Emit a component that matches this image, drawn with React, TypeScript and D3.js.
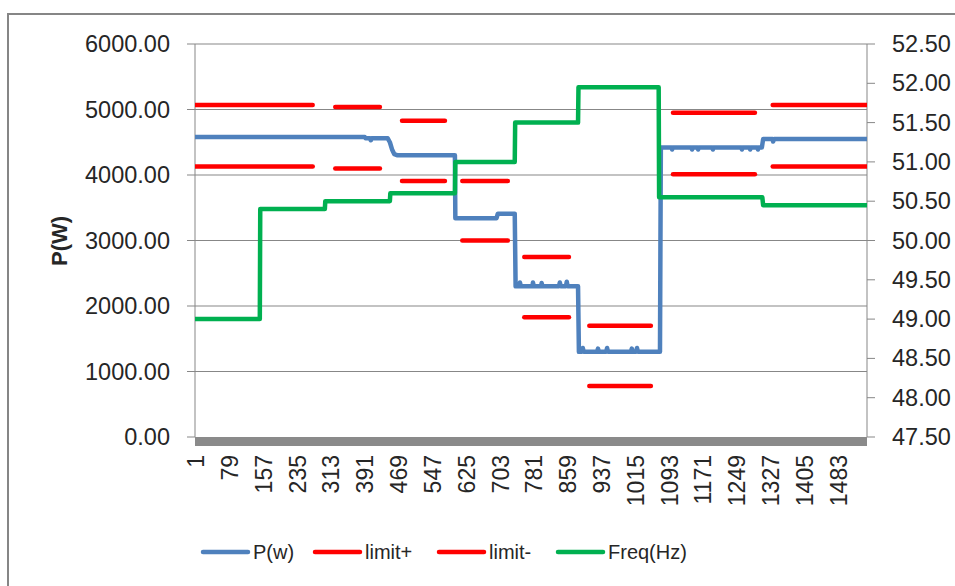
import React from 'react';
import * as d3 from 'd3';

const N = 1550;
const xTickLabels = [1, 79, 157, 235, 313, 391, 469, 547, 625, 703, 781, 859, 937, 1015, 1093, 1171, 1249, 1327, 1405, 1483];
const leftTicks = [0, 1000, 2000, 3000, 4000, 5000, 6000];
const rightTicks = [47.5, 48, 48.5, 49, 49.5, 50, 50.5, 51, 51.5, 52, 52.5];

// P(w) breakpoints (sample index, watts)
const pIndex = [1, 392, 394, 404, 406, 408, 445, 450, 455, 460, 468, 600, 601, 696, 699, 738, 740,
  749, 750, 752, 779, 780, 782, 799, 800, 802, 840, 842, 844, 856, 858, 860, 884, 886,
  893, 895, 897, 928, 930, 932, 949, 951, 953, 1006, 1008, 1010, 1018, 1020, 1022, 1073, 1075,
  1100, 1101, 1102, 1146, 1147, 1148, 1160, 1161, 1162, 1194, 1195, 1196, 1261, 1262, 1263,
  1280, 1281, 1282, 1298, 1299, 1300, 1308, 1311, 1333, 1334, 1336, 1550];
const pValue = [4580, 4580, 4560, 4560, 4530, 4560, 4560, 4500, 4390, 4320, 4300, 4300, 3340, 3340, 3410, 3410, 2300,
  2300, 2360, 2300, 2300, 2360, 2300, 2300, 2350, 2300, 2300, 2360, 2300, 2300, 2370, 2300, 2300, 1300,
  1300, 1360, 1300, 1300, 1350, 1300, 1300, 1360, 1300, 1300, 1350, 1300, 1300, 1360, 1300, 1300, 4420,
  4420, 4390, 4420, 4420, 4390, 4420, 4420, 4390, 4420, 4420, 4390, 4420, 4420, 4390, 4420,
  4420, 4390, 4420, 4420, 4390, 4420, 4420, 4550, 4550, 4510, 4550, 4550];

// Frequency breakpoints (sample index, Hz)
const fIndex = [1, 150, 151, 300, 301, 450, 451, 600, 601, 738, 739, 884, 885, 1070, 1071, 1309, 1311, 1550];
const fValue = [49.0, 49.0, 50.4, 50.4, 50.5, 50.5, 50.6, 50.6, 51.0, 51.0, 51.5, 51.5, 51.95, 51.95, 50.55, 50.55, 50.45, 50.45];

// limit segments
const limitStart = [1, 324, 478, 617, 760, 910, 1103, 1333];
const limitEnd = [272, 427, 577, 722, 863, 1052, 1292, 1550];
const limitPlus = [5070, 5040, 4830, 3910, 2750, 1700, 4950, 5070];
const limitMinus = [4130, 4100, 3910, 3000, 1830, 780, 4010, 4130];

const legendLabels = ['P(w)', 'limit+', 'limit-', 'Freq(Hz)'];
const legendColors = ['#4F81BD', '#FF0000', '#FF0000', '#00B050'];

const FONT = '"Liberation Sans", Arial, sans-serif';
const TXT = '#262626';
const GRID = '#878787';

export default function App() {
  const left = 195, right = 867, top = 44, bottom = 437;
  const x = d3.scaleLinear().domain([0.5, N + 0.5]).range([left, right]);
  const yL = d3.scaleLinear().domain([0, 6000]).range([bottom, top]);
  const yR = d3.scaleLinear().domain([47.5, 52.5]).range([bottom, top]);

  const pPts: [number, number][] = pIndex.map((d, i) => [d, pValue[i]]);
  const fPts: [number, number][] = fIndex.map((d, i) => [d, fValue[i]]);
  const lineL = d3.line<[number, number]>().x(d => x(d[0])).y(d => yL(d[1]));
  const lineR = d3.line<[number, number]>().x(d => x(d[0])).y(d => yR(d[1]));

  const legendX = [203, 315, 439, 558];

  return (
    <svg width={955} height={586} style={{ position: 'absolute', left: 0, top: 0, background: '#fff' }}>
      <defs>
        <clipPath id="plot">
          <rect x={left} y={top - 5} width={right - left} height={bottom - top + 5} />
        </clipPath>
      </defs>
      <rect x={0} y={0} width={955} height={586} fill="#fff" />
      <rect x={8} y={14} width={980} height={640} fill="none" stroke="#868686" strokeWidth={2} />

      {/* gridlines */}
      {leftTicks.filter(t => t > 0).map(t => (
        <line key={'g' + t} x1={left} x2={right} y1={yL(t)} y2={yL(t)} stroke={GRID} strokeWidth={1} />
      ))}
      {/* axes */}
      <line x1={left} x2={left} y1={top} y2={bottom} stroke={GRID} strokeWidth={1} />
      <line x1={right} x2={right} y1={top} y2={bottom} stroke={GRID} strokeWidth={1} />
      {leftTicks.map(t => (
        <g key={'l' + t}>
          <line x1={left - 8} x2={left} y1={yL(t)} y2={yL(t)} stroke={GRID} strokeWidth={1} />
          <text x={170} y={yL(t)} dominantBaseline="central" textAnchor="end" fontFamily={FONT} fontSize={23.5} fill={TXT}>
            {t.toFixed(2)}
          </text>
        </g>
      ))}
      {rightTicks.map(t => (
        <g key={'r' + t}>
          <line x1={right} x2={right + 8} y1={yR(t)} y2={yR(t)} stroke={GRID} strokeWidth={1} />
          <text x={892} y={yR(t)} dominantBaseline="central" textAnchor="start" fontFamily={FONT} fontSize={23.5} fill={TXT}>
            {t.toFixed(2)}
          </text>
        </g>
      ))}
      {/* thick category axis */}
      <rect x={left} y={bottom} width={right - left} height={9} fill="#8a8a8a" />
      {xTickLabels.map(t => (
        <text key={'x' + t} transform={`translate(${x(t) + 1},${455}) rotate(-90)`} dominantBaseline="central" textAnchor="end"
          fontFamily={FONT} fontSize={23} fill={TXT}>{t}</text>
      ))}
      <text transform={`translate(59,241) rotate(-90)`} dominantBaseline="central" textAnchor="middle"
        fontFamily={FONT} fontSize={22} fontWeight="bold" fill={TXT}>P(W)</text>

      <g clipPath="url(#plot)" fill="none" strokeLinecap="round" strokeLinejoin="round">
        <path d={lineL(pPts) || ''} stroke="#4F81BD" strokeWidth={4.5} />
        {limitStart.map((s, i) => (
          <line key={'lp' + i} x1={x(s)} x2={x(limitEnd[i])} y1={yL(limitPlus[i])} y2={yL(limitPlus[i])} stroke="#FF0000" strokeWidth={4.5} />
        ))}
        {limitStart.map((s, i) => (
          <line key={'lm' + i} x1={x(s)} x2={x(limitEnd[i])} y1={yL(limitMinus[i])} y2={yL(limitMinus[i])} stroke="#FF0000" strokeWidth={4.5} />
        ))}
        <path d={lineR(fPts) || ''} stroke="#00B050" strokeWidth={4.5} />
      </g>

      {legendLabels.map((l, i) => (
        <g key={'lg' + i}>
          <line x1={legendX[i]} x2={legendX[i] + 45} y1={552} y2={552} stroke={legendColors[i]} strokeWidth={4.5} strokeLinecap="round" />
          <text x={legendX[i] + 50} y={552} dominantBaseline="central" fontFamily={FONT} fontSize={20} fill={TXT}>{l}</text>
        </g>
      ))}
    </svg>
  );
}
